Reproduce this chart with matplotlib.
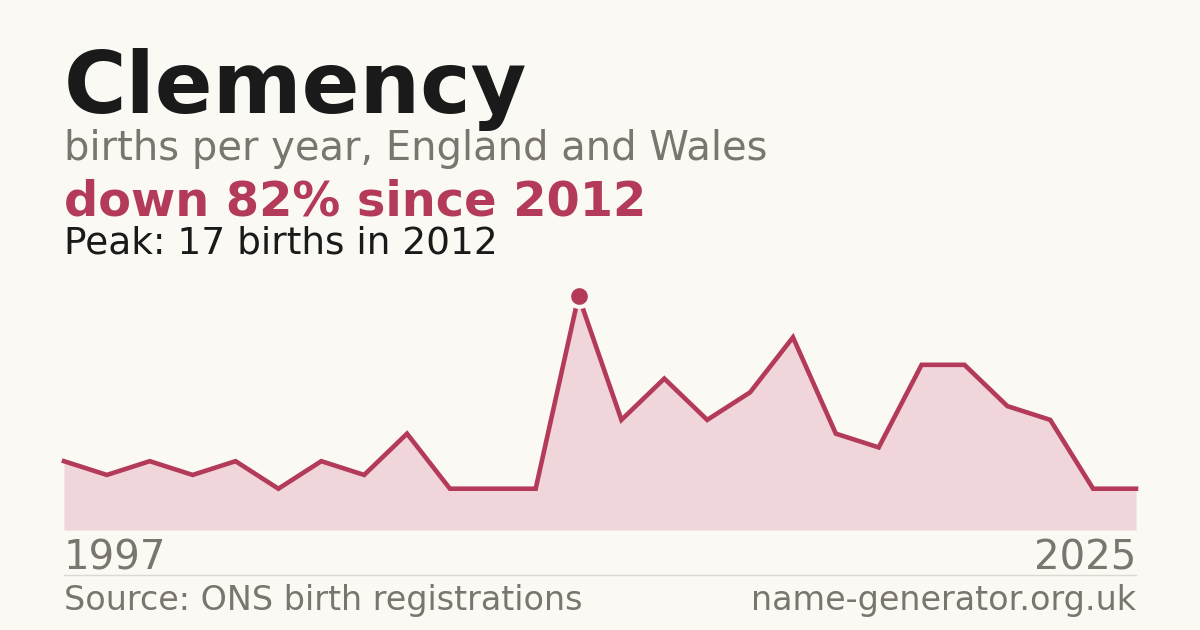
import os
import matplotlib
matplotlib.use("Agg")
import matplotlib.pyplot as plt
from matplotlib.font_manager import FontProperties

ttf_dir = os.path.join(matplotlib.get_data_path(), "fonts", "ttf")
REG = os.path.join(ttf_dir, "DejaVuSans.ttf")
BOLD = os.path.join(ttf_dir, "DejaVuSans-Bold.ttf")

def fp(size, bold=False):
    return FontProperties(fname=BOLD if bold else REG, size=size)

# Data (evenly spaced registrations; some early years suppressed)
years = [1997, 1998, 1999, 2000, 2001, 2002, 2003, 2004, 2005, 2006, 2007, 2008, 2012,
         2013, 2014, 2015, 2016, 2017, 2018, 2019, 2020, 2021, 2022, 2023, 2024, 2025]
births = [5, 4, 5, 4, 5, 3, 5, 4, 7, 3, 3, 3, 17,
          8, 11, 8, 10, 14, 7, 6, 12, 12, 9, 8, 3, 3]
peak_idx = 12

BG = "#faf9f4"
RED = "#b33a58"
FILL = "#f0d5db"
GRAY = "#7a756d"
DARK = "#1a1a1a"

W, H = 1200, 630
fig = plt.figure(figsize=(12, 6.3), dpi=100, facecolor=BG)

def fy(py):
    return 1 - py / H

ax = fig.add_axes([64 / W, (H - 530) / H, 1072 / W, 234 / H])
ax.set_facecolor(BG)
xs = list(range(len(births)))
ax.fill_between(xs, births, 0, color=FILL, linewidth=0)
ax.plot(xs, births, color=RED, linewidth=3.3, solid_joinstyle="miter", clip_on=False)
ax.plot([xs[peak_idx]], [births[peak_idx]], "o", color=RED, markersize=15,
        markeredgecolor=BG, markeredgewidth=3, clip_on=False, zorder=5)
ax.set_xlim(0, len(births) - 1)
ax.set_ylim(0, 17)
ax.axis("off")

fig.text(64 / W, fy(113), "Clemency", fontproperties=fp(61.5, True), color=DARK, va="baseline")
fig.text(64 / W, fy(160), "births per year, England and Wales", fontproperties=fp(28.8), color=GRAY, va="baseline")
fig.text(64 / W, fy(215), "down 82% since 2012", fontproperties=fp(34.5, True), color=RED, va="baseline")
fig.text(64 / W, fy(254), "Peak: 17 births in 2012", fontproperties=fp(27), color=DARK, va="baseline")

fig.text(64 / W, fy(570), str(years[0]), fontproperties=fp(29), color=GRAY, va="baseline")
fig.text(1136 / W, fy(570), str(years[-1]), fontproperties=fp(29), color=GRAY, va="baseline", ha="right")

fig.add_artist(plt.Line2D([64 / W, 1136 / W], [fy(574.5), fy(574.5)], color="#ddd9d0", linewidth=1))

fig.text(64 / W, fy(610), "Source: ONS birth registrations", fontproperties=fp(24), color=GRAY, va="baseline")
fig.text(1136 / W, fy(610), "name-generator.org.uk", fontproperties=fp(24), color=GRAY, va="baseline", ha="right")

fig.savefig("out.png", dpi=100, facecolor=BG)
